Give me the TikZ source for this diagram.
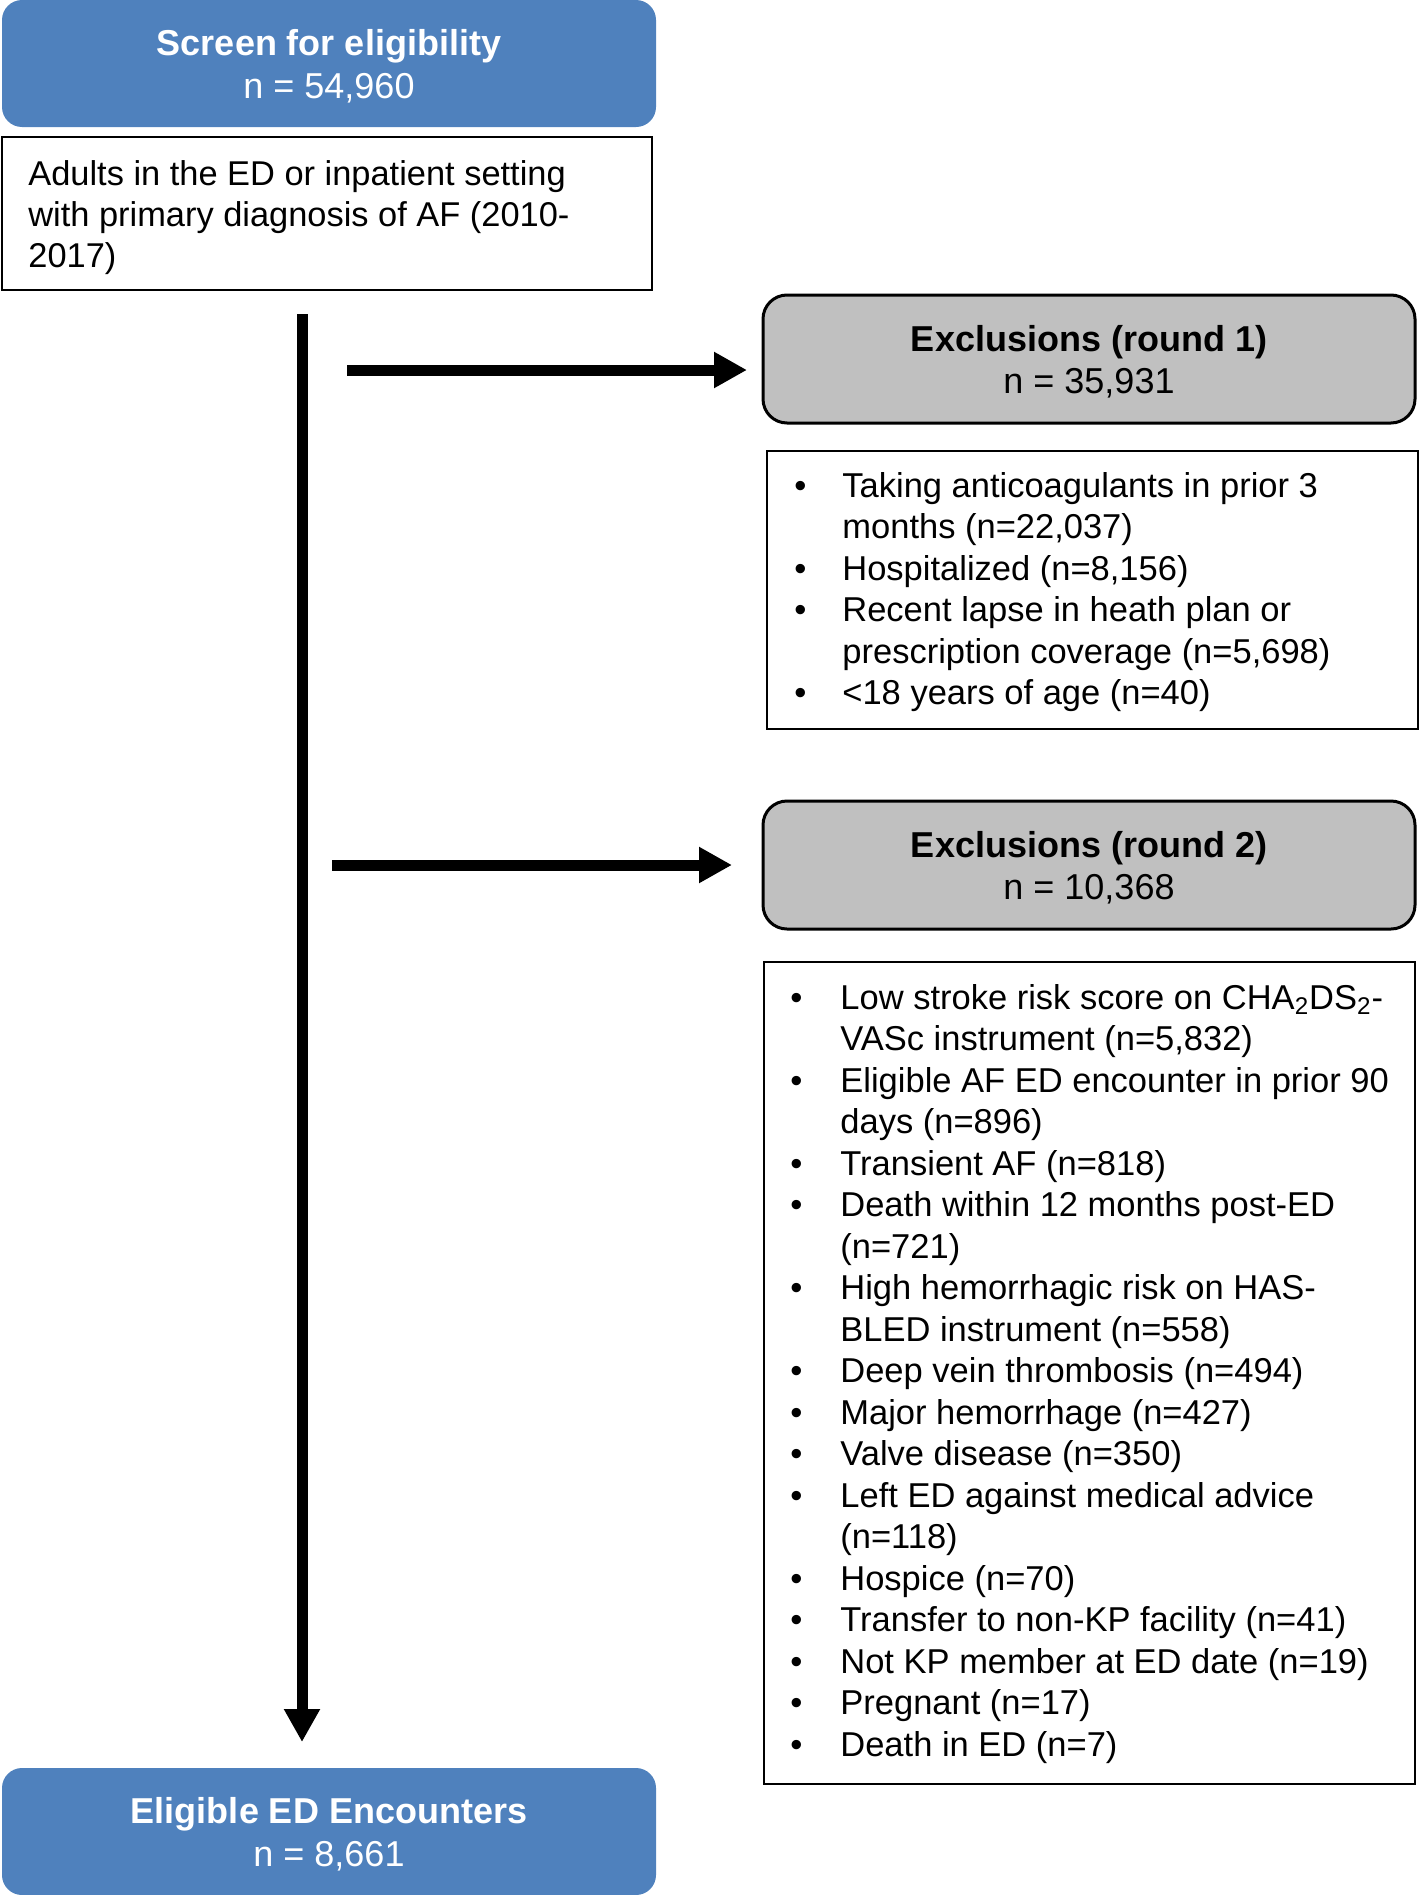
\documentclass[tikz,border=0pt]{standalone}
\usepackage{fontspec}
\setmainfont{Liberation Sans}
\usetikzlibrary{arrows.meta}
\definecolor{hdrblue}{RGB}{79,129,189}
\definecolor{exgray}{RGB}{192,192,192}
\newcommand\bitemA{\par\noindent\hangindent=24pt\hangafter=1\makebox[24pt][l]{•}}
\newcommand\bitemB{\par\noindent\hangindent=25pt\hangafter=1\makebox[25pt][l]{•}}
\begin{document}
\begin{tikzpicture}[x=0.5pt,y=-0.5pt,
  bluebox/.style={fill=hdrblue, draw=none, rounded corners=10pt, anchor=north west, outer sep=0pt,
    minimum width=327pt, minimum height=63.5pt},
  graybox/.style={fill=exgray, draw=black, line width=1.5pt, rounded corners=12pt, anchor=north west,
    outer sep=0pt, minimum width=326pt, minimum height=64pt},
  hdrtext/.style={align=center, inner sep=0pt, yshift=-1.3pt, font=\fontsize{18}{21.2}\selectfont},
  plainbox/.style={draw=black, line width=1.25pt, anchor=north west, outer sep=0pt, inner sep=0pt},
  listtext/.style={anchor=base west, inner sep=0pt},
  bigarrow/.style={line width=5.5pt, -{Triangle[length=16.5pt,width=17pt]}}
]
\useasboundingbox (0,0) rectangle (1420,1895);

% left column
\node[bluebox] (screen) at (2,0) {};
\node[hdrtext, text=white] (screentext) at (screen.center) {\textbf{Screen for eligibility}\\n = 54,960};
\node[plainbox, minimum width=325pt, minimum height=76.5pt] (adults) at (2,137) {};
\node[listtext] (adultstext) at (28,185) {\parbox[t]{310pt}{\fontsize{17.2}{20.5}\selectfont
  Adults in the ED or inpatient setting\\
  with primary diagnosis of AF (2010-\\
  2017)}};
\node[bluebox] (final) at (2,1768) {};
\node[hdrtext, text=white] (finaltext) at (final.center) {\textbf{Eligible ED Encounters}\\n = 8,661};

% right column
\node[graybox] (ex1) at (763,295) {};
\node[hdrtext] (ex1text) at (ex1.center) {\textbf{Exclusions (round 1)}\\n = 35,931};
\node[plainbox, minimum width=325.5pt, minimum height=139pt] (list1) at (767,451) {};
\node[listtext] (list1text) at (794,497) {\parbox[t]{312pt}{\fontsize{17.25}{20.75}\selectfont
  \setlength\parindent{0pt}%
  \bitemA Taking anticoagulants in prior 3\newline months (n=22,037)
  \bitemA Hospitalized (n=8,156)
  \bitemA Recent lapse in heath plan or\newline prescription coverage (n=5,698)
  \bitemA <18 years of age (n=40)\par}};

\node[graybox] (ex2) at (763,801) {};
\node[hdrtext] (ex2text) at (ex2.center) {\textbf{Exclusions (round 2)}\\n = 10,368};
\node[plainbox, minimum width=325.5pt, minimum height=411pt] (list2) at (764,962) {};
\node[listtext] (list2text) at (790,1009) {\parbox[t]{314pt}{\fontsize{17.25}{20.75}\selectfont
  \setlength\parindent{0pt}%
  \bitemB Low stroke risk score on CHA\textsubscript{2}DS\textsubscript{2}-\newline VASc instrument (n=5,832)
  \bitemB Eligible AF ED encounter in prior 90\newline days (n=896)
  \bitemB Transient AF (n=818)
  \bitemB Death within 12 months post-ED\newline (n=721)
  \bitemB High hemorrhagic risk on HAS-\newline BLED instrument (n=558)
  \bitemB Deep vein thrombosis (n=494)
  \bitemB Major hemorrhage (n=427)
  \bitemB Valve disease (n=350)
  \bitemB Left ED against medical advice\newline (n=118)
  \bitemB Hospice (n=70)
  \bitemB Transfer to non-KP facility (n=41)
  \bitemB Not KP member at ED date (n=19)
  \bitemB Pregnant (n=17)
  \bitemB Death in ED (n=7)\par}};

% connectors
\coordinate (vtop) at (302,314);
\coordinate (h1) at (347,370);
\coordinate (h2) at (332,865);
\draw[bigarrow, shorten >=13pt] (vtop) -- (vtop |- final.north);
\draw[bigarrow, shorten >=8pt] (h1) -- (h1 -| ex1.west);
\draw[bigarrow, shorten >=15.5pt] (h2) -- (h2 -| ex2.west);
\end{tikzpicture}
\end{document}
